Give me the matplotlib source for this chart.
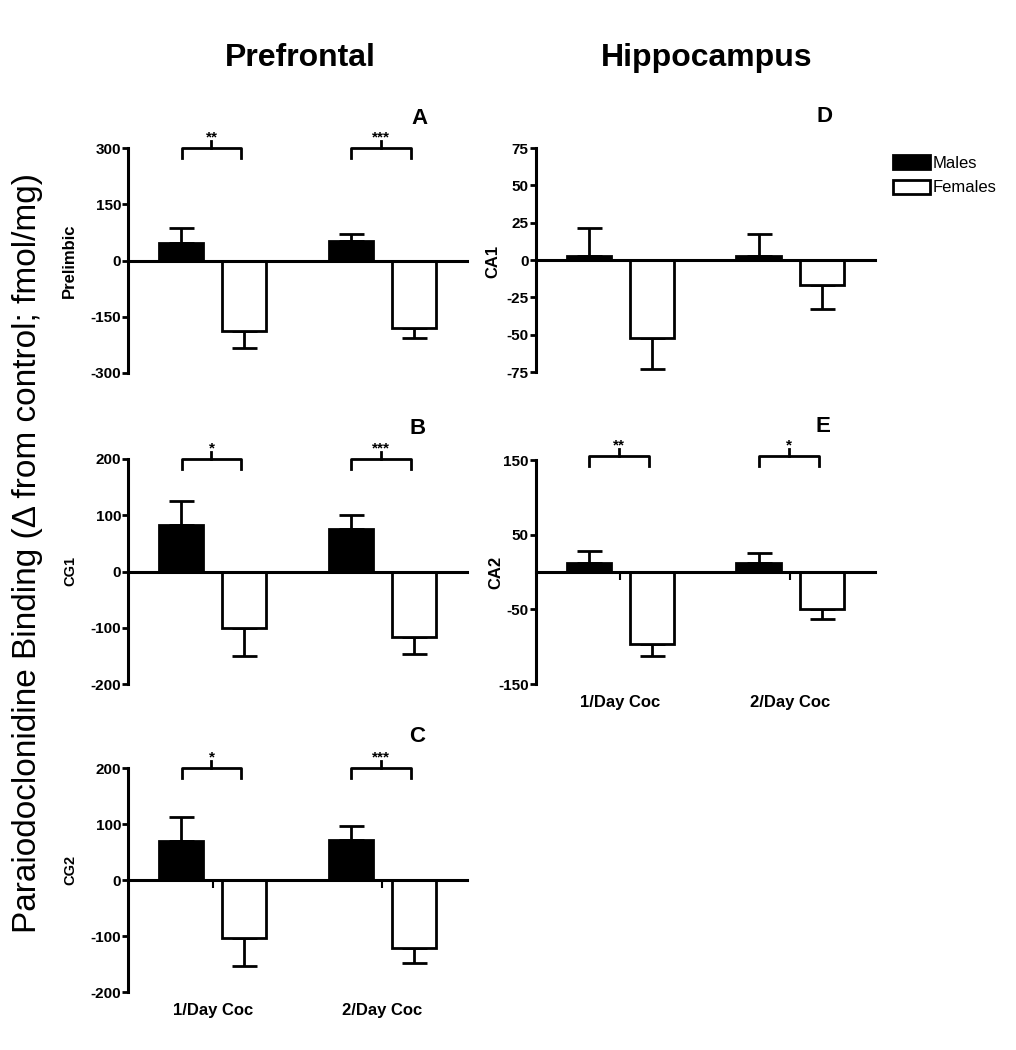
import matplotlib
matplotlib.use("Agg")
import matplotlib.pyplot as plt
import numpy as np

plt.rcParams['font.family'] = ['Liberation Sans', 'DejaVu Sans']
plt.rcParams['axes.unicode_minus'] = False

# data (fmol/mg, change from control)
groups = ['1/Day Coc', '2/Day Coc']

prelimbic_males = [47, 51]
prelimbic_males_err = [40, 20]
prelimbic_females = [-189, -180]
prelimbic_females_err = [44, 26]

cg1_males = [82, 76]
cg1_males_err = [43, 24]
cg1_females = [-100, -116]
cg1_females_err = [51, 31]

cg2_males = [69, 71]
cg2_males_err = [44, 25]
cg2_females = [-104, -122]
cg2_females_err = [50, 27]

ca1_males = [2.7, 3]
ca1_males_err = [19, 14.6]
ca1_females = [-52.5, -17]
ca1_females_err = [20.5, 15.5]

ca2_males = [12, 12]
ca2_males_err = [16.6, 13.5]
ca2_females = [-97, -49]
ca2_females_err = [16, 14]

prelimbic_ticks = [300, 150, 0, -150, -300]
cg_ticks = [200, 100, 0, -100, -200]
ca1_ticks = [75, 50, 25, 0, -25, -50, -75]
ca2_ticks = [150, 50, -50, -150]

prelimbic_stars = ['**', '***']
cg1_stars = ['*', '***']
cg2_stars = ['*', '***']
ca2_stars = ['**', '*']

W, H = 1016, 1050
fig = plt.figure(figsize=(W / 100, H / 100), dpi=100)


def px_axes(left, top, right, bottom):
    return fig.add_axes([left / W, 1 - bottom / H, (right - left) / W, (bottom - top) / H])


x = np.arange(1, len(groups) + 1)
off = 0.186
width = 0.26


def draw_panel(ax, males, males_err, females, females_err, ticks, ylim,
               stars=None, bracket_y=None, xticks=False):
    mb = ax.bar(x - off, males, width, color='black', edgecolor='black', linewidth=2, zorder=2)
    fb = ax.bar(x + off, females, width, color='white', edgecolor='black', linewidth=2, zorder=2)
    ax.errorbar(x - off, males, yerr=[np.zeros(len(males)), males_err], fmt='none',
                ecolor='black', elinewidth=2, capsize=9, capthick=2, zorder=1)
    ax.errorbar(x + off, females, yerr=[females_err, np.zeros(len(females))], fmt='none',
                ecolor='black', elinewidth=2, capsize=9, capthick=2, zorder=1)
    ax.set_xlim(0.5, 2.5)
    ax.set_ylim(*ylim)
    ax.spines['top'].set_visible(False)
    ax.spines['right'].set_visible(False)
    ax.spines['left'].set_linewidth(2.2)
    ax.spines['bottom'].set_linewidth(2.2)
    ax.spines['bottom'].set_position(('data', 0))
    ax.set_yticks(ticks, labels=[str(t) for t in ticks], fontweight='bold', fontsize=11)
    ax.tick_params(axis='y', direction='out', length=4, width=2, pad=1)
    ax.set_xticks(x, labels=[])
    if xticks:
        ax.tick_params(axis='x', direction='out', length=6, width=1.5)
    else:
        ax.tick_params(axis='x', length=0)
    if stars:
        span = ylim[1] - ylim[0]
        for g, s in zip(x, stars):
            x1, x2 = g - 0.183, g + 0.168
            ax.plot([x1, x1, x2, x2], [bracket_y - 0.044 * span, bracket_y, bracket_y,
                                       bracket_y - 0.044 * span],
                    color='black', lw=2, clip_on=False)
            xc = (x1 + x2) / 2
            ax.plot([xc, xc], [bracket_y, bracket_y + 0.031 * span], color='black', lw=2,
                    clip_on=False)
            ax.annotate(s, (xc, bracket_y), xytext=(0, 5), textcoords='offset points',
                        ha='center', va='baseline', fontsize=11, fontweight='bold',
                        annotation_clip=False)
    return mb, fb


ax_a = px_axes(128, 148, 467, 373)
draw_panel(ax_a, prelimbic_males, prelimbic_males_err, prelimbic_females, prelimbic_females_err,
           prelimbic_ticks, (-300, 300), prelimbic_stars, 300)

ax_b = px_axes(128, 459, 467, 684)
draw_panel(ax_b, cg1_males, cg1_males_err, cg1_females, cg1_females_err,
           cg_ticks, (-200, 200), cg1_stars, 200)

ax_c = px_axes(128, 768, 467, 992)
draw_panel(ax_c, cg2_males, cg2_males_err, cg2_females, cg2_females_err,
           cg_ticks, (-200, 200), cg2_stars, 200, xticks=True)

ax_d = px_axes(535.5, 148, 875, 372)
mb, fb = draw_panel(ax_d, ca1_males, ca1_males_err, ca1_females, ca1_females_err,
                    ca1_ticks, (-75, 75))

ax_e = px_axes(535.5, 460, 875, 684)
draw_panel(ax_e, ca2_males, ca2_males_err, ca2_females, ca2_females_err,
           ca2_ticks, (-150, 150), ca2_stars, 155, xticks=True)

# group labels under the bottom panels
for ax in (ax_c, ax_e):
    for g, name in zip(x, groups):
        ax.annotate(name, (g, 0), xycoords=('data', 'axes fraction'), xytext=(0, -13),
                    textcoords='offset points', ha='center', va='center',
                    fontsize=12, fontweight='bold', annotation_clip=False)

# region labels
fig.text(69 / W, 1 - 261 / H, 'Prelimbic', rotation=90, ha='center', va='center',
         fontsize=12, fontweight='bold')
fig.text(70 / W, 1 - 571 / H, 'CG1', rotation=90, ha='center', va='center',
         fontsize=10.5, fontweight='bold')
fig.text(70 / W, 1 - 870 / H, 'CG2', rotation=90, ha='center', va='center',
         fontsize=10.5, fontweight='bold')
fig.text(493 / W, 1 - 261 / H, 'CA1', rotation=90, ha='center', va='center',
         fontsize=12, fontweight='bold')
fig.text(496 / W, 1 - 572 / H, 'CA2', rotation=90, ha='center', va='center',
         fontsize=12, fontweight='bold')

# panel letters
for lbl, px, py in [('A', 419, 118), ('B', 418, 429), ('C', 417, 736),
                    ('D', 824, 117), ('E', 823, 426)]:
    fig.text(px / W, 1 - py / H, lbl, ha='center', va='center', fontsize=16, fontweight='bold')

# column titles
fig.text(300 / W, 1 - 66 / H, 'Prefrontal', ha='center', va='baseline', fontsize=23,
         fontweight='bold')
fig.text(707 / W, 1 - 66 / H, 'Hippocampus', ha='center', va='baseline', fontsize=23,
         fontweight='bold')

fig.text(28 / W, 1 - 553 / H, 'Paraiodoclonidine Binding (\u0394 from control; fmol/mg)',
         rotation=90, ha='center', va='center', fontsize=24)

ax_d.legend([mb, fb], ['Males', 'Females'], loc='upper left',
            bbox_to_anchor=(893 / W, 1 - 155 / H), bbox_transform=fig.transFigure,
            frameon=False, fontsize=12, handlelength=2.2, handleheight=0.9,
            handletextpad=0.15, labelspacing=0.55, borderpad=0, borderaxespad=0)

plt.savefig('out.png', dpi=100)
plt.close()
